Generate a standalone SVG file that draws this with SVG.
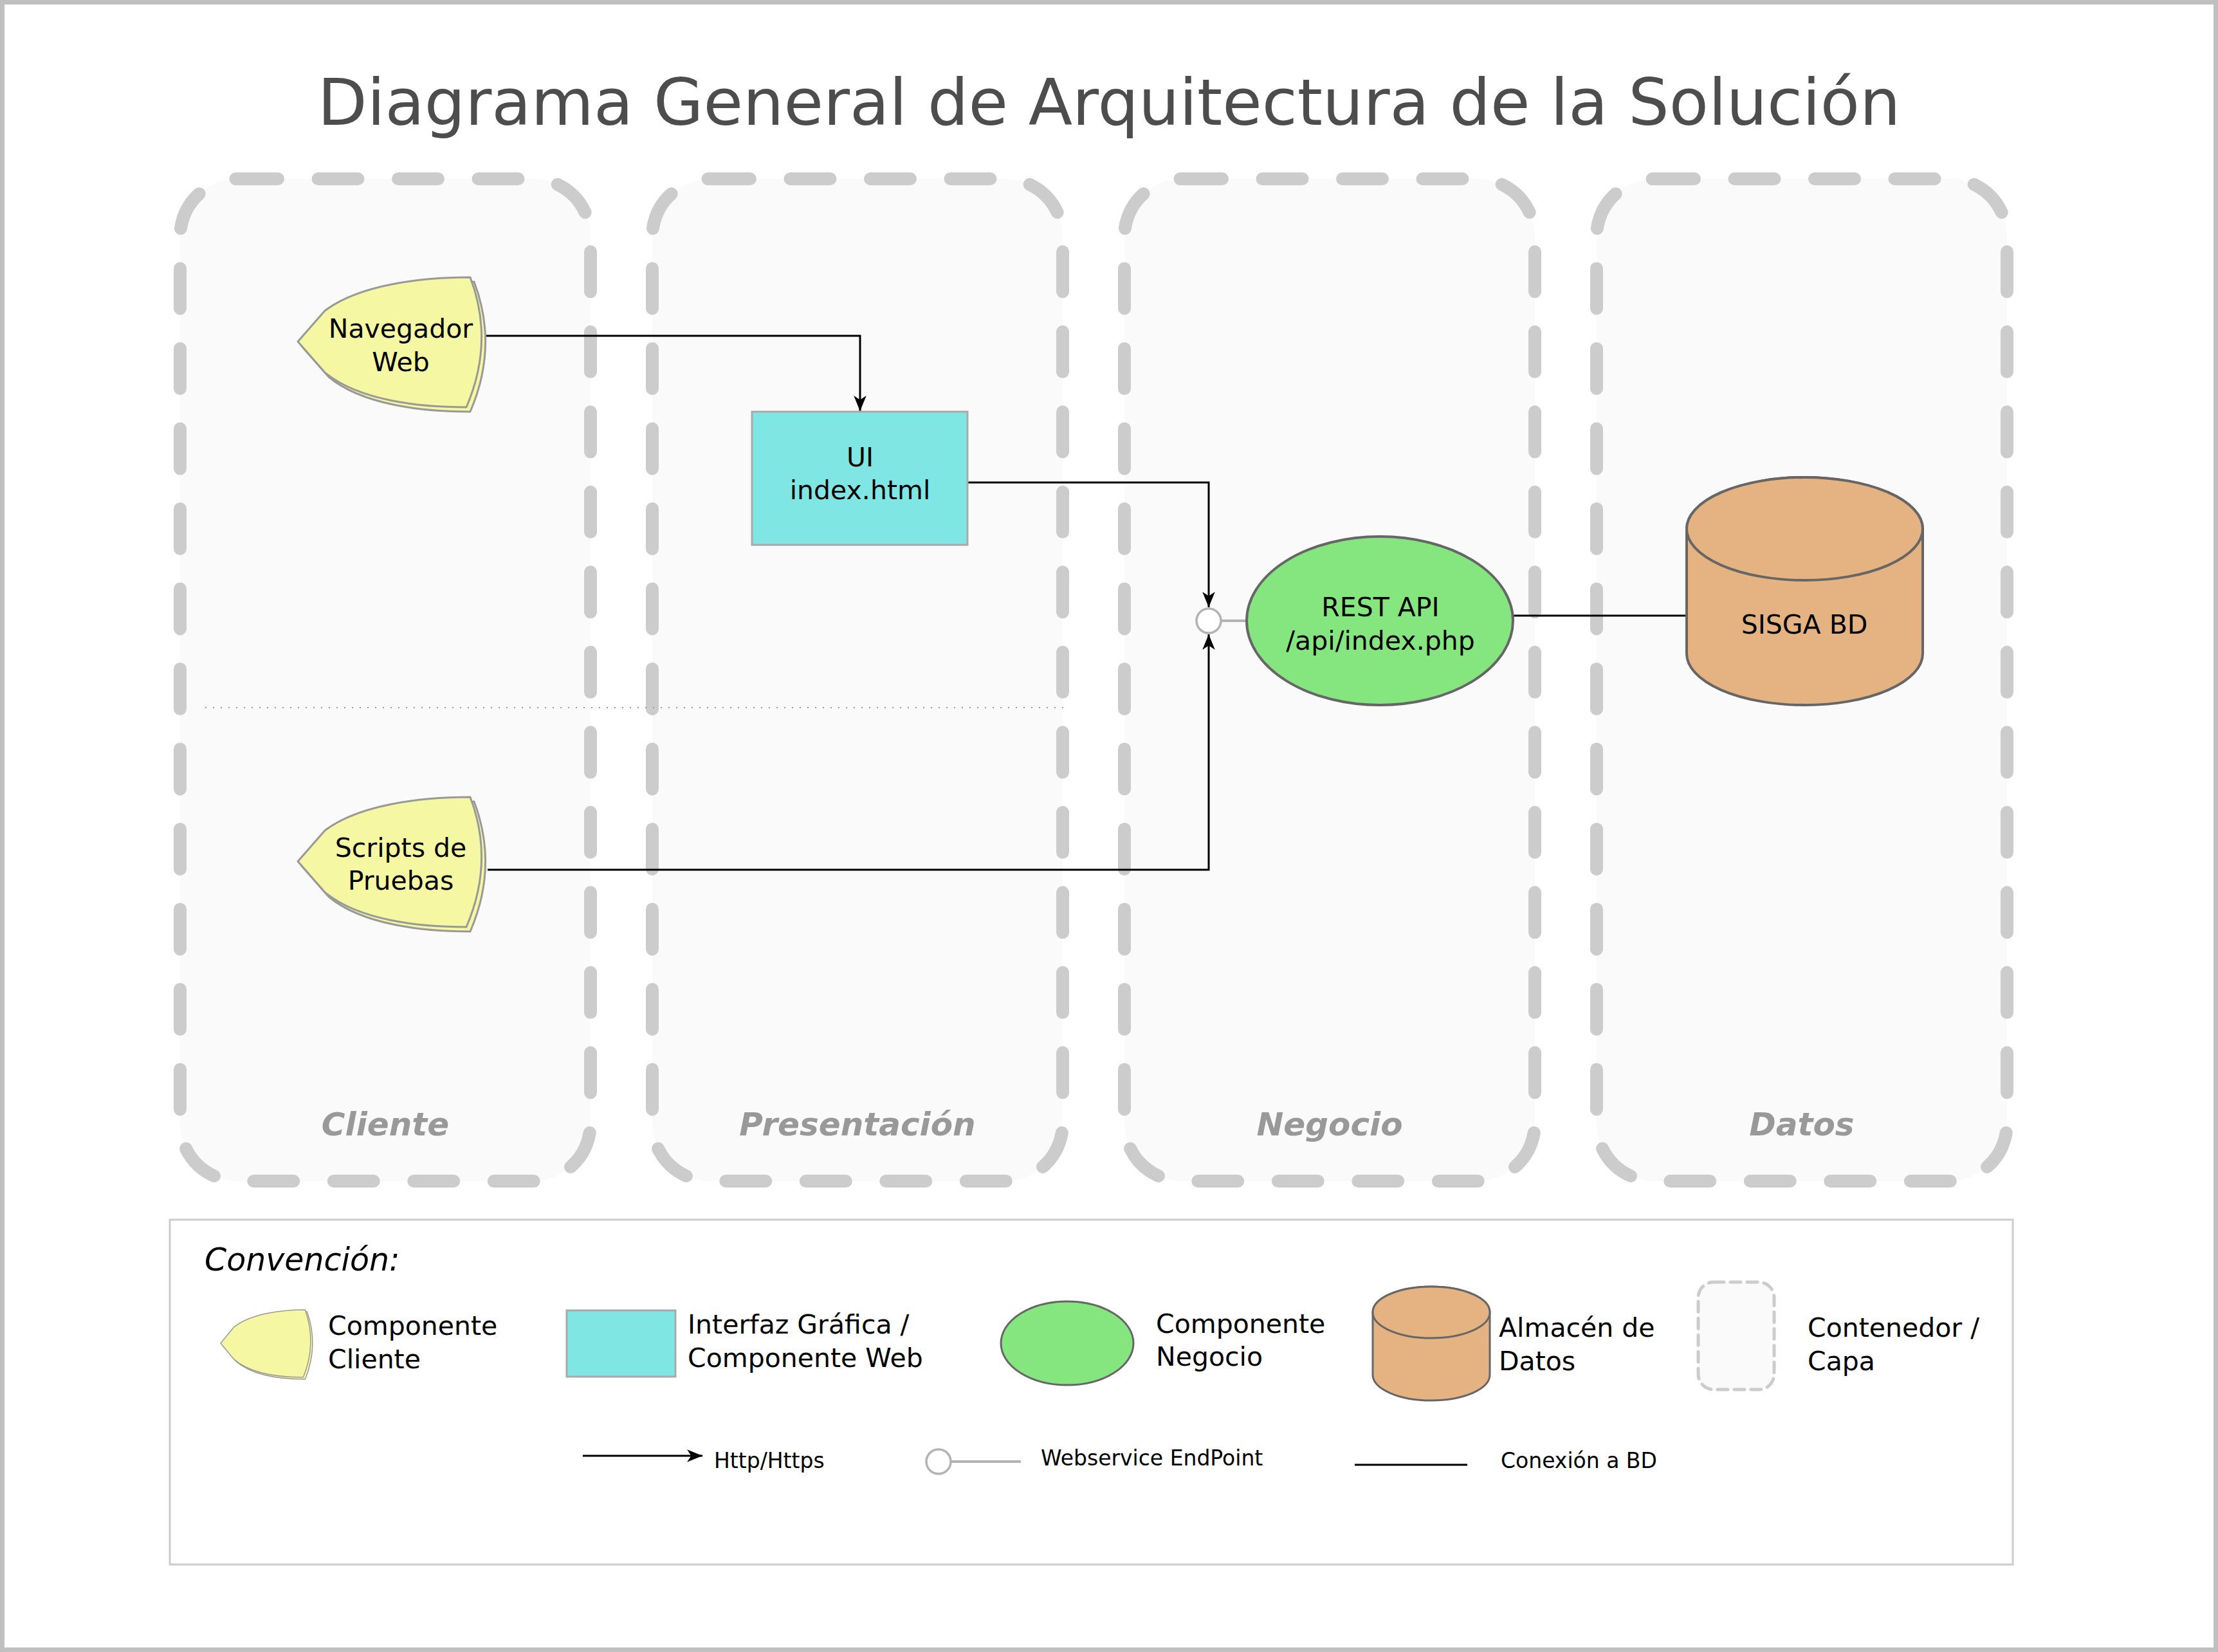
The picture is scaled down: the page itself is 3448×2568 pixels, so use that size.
<svg xmlns="http://www.w3.org/2000/svg" width="3448" height="2568" viewBox="0 0 3448 2568">
<defs>
<style>
.lane{fill:#fafafa;stroke:#cccccc;stroke-width:20;stroke-linecap:round;stroke-dasharray:62 62.5}
.lanelbl{font-family:"DejaVu Sans",sans-serif;font-size:50px;font-weight:bold;font-style:italic;fill:#999999;text-anchor:middle}
.node{font-family:"DejaVu Sans",sans-serif;font-size:41px;fill:#000;text-anchor:middle}
.leg{font-family:"DejaVu Sans",sans-serif;font-size:41px;fill:#000}
.leg2{font-family:"DejaVu Sans",sans-serif;font-size:33px;fill:#000}
.cli{fill:#f5f7a3;stroke:#999999;stroke-width:3;stroke-linejoin:round}
.ui{fill:#80e6e3;stroke:#aaaaaa;stroke-width:3}
.biz{fill:#85e680;stroke:#666666;stroke-width:4}
.db{fill:#e5b382;stroke:#666666;stroke-width:4}
.conn{fill:none;stroke:#000;stroke-width:3}
.ep{fill:#ffffff;stroke:#b3b3b3;stroke-width:3.5}
.epl{stroke:#b3b3b3;stroke-width:4}
</style>
<marker id="arrow" markerUnits="userSpaceOnUse" markerWidth="24" markerHeight="20" refX="22" refY="9" orient="auto" viewBox="0 0 22 18">
<path d="M0,0 L22,9 L0,18 L6,9 z" fill="#000"/>
</marker>
<path id="cliShape" d="M268,-100 C190,-100 95,-88 42,-48 L0,0 L42,48 C95,92 190,102 262,102 Q306,0 268,-100 Z"/>
</defs>
<rect x="0" y="0" width="3448" height="2568" fill="#ffffff"/>
<rect x="3.5" y="3.5" width="3441" height="2561" fill="none" stroke="#c0c0c0" stroke-width="7"/>
<text x="1724" y="194" font-family="DejaVu Sans, sans-serif" font-size="100" fill="#4d4d4d" text-anchor="middle">Diagrama General de Arquitectura de la Solución</text>

<g id="lane-cliente">
<rect class="lane" x="280" y="278" width="638" height="1558" rx="90" ry="90"/>
<text class="lanelbl" x="599" y="1765">Cliente</text>
</g>
<g id="lane-presentacion">
<rect class="lane" x="1014" y="278" width="638" height="1558" rx="90" ry="90"/>
<text class="lanelbl" x="1333" y="1765">Presentación</text>
</g>
<g id="lane-negocio">
<rect class="lane" x="1748" y="278" width="638" height="1558" rx="90" ry="90"/>
<text class="lanelbl" x="2067" y="1765">Negocio</text>
</g>
<g id="lane-datos">
<rect class="lane" x="2482" y="278" width="638" height="1558" rx="90" ry="90"/>
<text class="lanelbl" x="2801" y="1765">Datos</text>
</g>

<line id="separator" x1="319" y1="1100" x2="1660" y2="1100" stroke="#999999" stroke-width="2" stroke-dasharray="2 10"/>

<g id="connectors">
<path class="conn" d="M756,522 H1337 V639" marker-end="url(#arrow)"/>
<path class="conn" d="M1504,750 H1879 V944" marker-end="url(#arrow)"/>
<path class="conn" d="M758,1352 H1879 V986" marker-end="url(#arrow)"/>
<line class="epl" x1="1898" y1="965" x2="1939" y2="965"/>
<line class="conn" x1="2352" y1="957" x2="2623" y2="957"/>
</g>

<g id="node-navegador">
<use href="#cliShape" class="cli" transform="translate(469,538)"/>
<use href="#cliShape" class="cli" transform="translate(463,531)"/>
<text class="node" x="623" y="525">Navegador</text>
<text class="node" x="623" y="577">Web</text>
</g>
<g id="node-scripts">
<use href="#cliShape" class="cli" transform="translate(469,1346)"/>
<use href="#cliShape" class="cli" transform="translate(463,1339)"/>
<text class="node" x="623" y="1332">Scripts de</text>
<text class="node" x="623" y="1383">Pruebas</text>
</g>
<g id="node-ui">
<rect class="ui" x="1169" y="640" width="335" height="207"/>
<text class="node" x="1337" y="725">UI</text>
<text class="node" x="1337" y="776">index.html</text>
</g>
<g id="node-endpoint">
<circle class="ep" cx="1879" cy="965" r="19"/>
</g>
<g id="node-restapi">
<ellipse class="biz" cx="2145" cy="965" rx="207" ry="131"/>
<text class="node" x="2146" y="958">REST API</text>
<text class="node" x="2146" y="1010">/api/index.php</text>
</g>
<g id="node-sisga">
<path class="db" d="M2622,822 V1016 A183.5,80 0 0 0 2989,1016 V822 A183.5,80 0 0 0 2622,822 Z"/>
<ellipse class="db" cx="2805.5" cy="822" rx="183.5" ry="80"/>
<text class="node" x="2805" y="985">SISGA BD</text>
</g>

<g id="legend">
<rect x="264" y="1896" width="2865" height="536" fill="#ffffff" stroke="#cccccc" stroke-width="3"/>
<text x="318" y="1975" font-family="DejaVu Sans, sans-serif" font-size="49" font-style="italic" fill="#000">Convención:</text>
<g id="legend-cliente">
<use href="#cliShape" class="cli" transform="translate(346,2091) scale(0.49,0.52)" style="vector-effect:non-scaling-stroke"/>
<use href="#cliShape" class="cli" transform="translate(343,2088) scale(0.49,0.52)"/>
<text class="leg" x="510" y="2075">Componente</text>
<text class="leg" x="510" y="2127">Cliente</text>
</g>
<g id="legend-ui">
<rect class="ui" x="881" y="2037" width="169" height="103"/>
<text class="leg" x="1069" y="2073">Interfaz Gráfica /</text>
<text class="leg" x="1069" y="2125">Componente Web</text>
</g>
<g id="legend-negocio">
<ellipse fill="#85e680" stroke="#666666" stroke-width="3" cx="1659" cy="2088" rx="103" ry="65"/>
<text class="leg" x="1797" y="2072">Componente</text>
<text class="leg" x="1797" y="2123">Negocio</text>
</g>
<g id="legend-datos">
<path fill="#e5b382" stroke="#666666" stroke-width="3" d="M2134,2040 V2137 A91,40 0 0 0 2316,2137 V2040 A91,40 0 0 0 2134,2040 Z"/>
<ellipse fill="#e5b382" stroke="#666666" stroke-width="3" cx="2225" cy="2040" rx="91" ry="40"/>
<text class="leg" x="2330" y="2078">Almacén de</text>
<text class="leg" x="2330" y="2130">Datos</text>
</g>
<g id="legend-capa">
<rect x="2640" y="1993" width="118" height="167" rx="24" ry="24" fill="#fafafa" stroke="#cccccc" stroke-width="5" stroke-dasharray="16 10" stroke-linecap="round"/>
<text class="leg" x="2810" y="2078">Contenedor /</text>
<text class="leg" x="2810" y="2130">Capa</text>
</g>
<g id="legend-http">
<line class="conn" x1="906" y1="2263" x2="1092" y2="2263" marker-end="url(#arrow)"/>
<text class="leg2" x="1110" y="2282">Http/Https</text>
</g>
<g id="legend-endpoint">
<line class="epl" x1="1478" y1="2272" x2="1587" y2="2272"/>
<circle class="ep" cx="1459" cy="2272" r="19"/>
<text class="leg2" x="1618" y="2278">Webservice EndPoint</text>
</g>
<g id="legend-bd">
<line class="conn" x1="2106" y1="2277" x2="2281" y2="2277"/>
<text class="leg2" x="2333" y="2282">Conexión a BD</text>
</g>
</g>
</svg>
